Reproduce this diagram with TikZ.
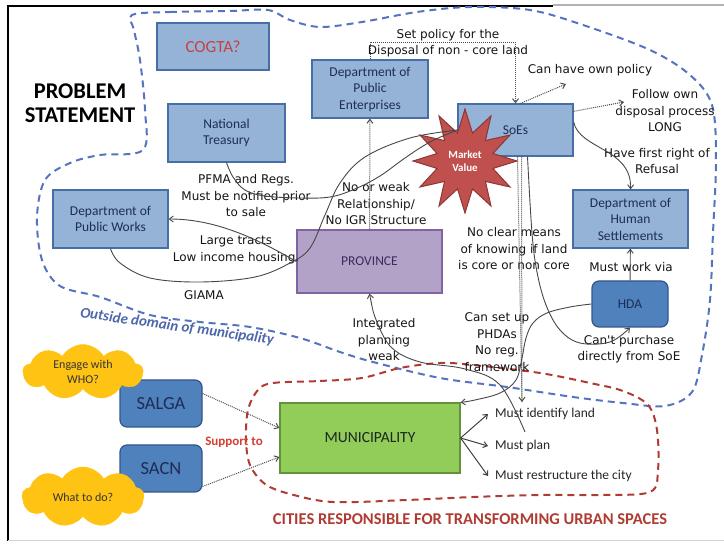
\documentclass[tikz,border=0pt]{standalone}
\usepackage{fontspec}
\setmainfont{Carlito}
\newfontfamily\handfont{DejaVu Sans}
\usetikzlibrary{shapes.geometric,shapes.symbols,arrows.meta,calc,positioning}

\definecolor{boxfill}{RGB}{149,179,215}
\definecolor{boxdraw}{RGB}{72,110,168}
\definecolor{boxtext}{RGB}{30,45,85}
\definecolor{darkfill}{RGB}{79,129,189}
\definecolor{darkdraw}{RGB}{50,85,140}
\definecolor{provfill}{RGB}{179,162,199}
\definecolor{provdraw}{RGB}{128,100,162}
\definecolor{provtext}{RGB}{55,45,95}
\definecolor{munifill}{RGB}{146,205,90}
\definecolor{munidraw}{RGB}{100,145,60}
\definecolor{munitext}{RGB}{25,40,30}
\definecolor{starfill}{RGB}{192,80,77}
\definecolor{stardraw}{RGB}{140,55,55}
\definecolor{cloudfill}{RGB}{255,195,20}
\definecolor{outblue}{RGB}{85,115,190}
\definecolor{cityred}{RGB}{175,60,50}
\definecolor{supred}{RGB}{215,60,50}
\definecolor{cogtared}{RGB}{200,65,65}

\tikzset{
  land schemes/.style = {
    x = 1pt, y = -1pt,
    >= {Straight Barb[length=4pt,width=6pt]},
    % Blocks
    bn/.style  = {draw=boxdraw, fill=boxfill, line width=1.2pt,
                  text=boxtext, align=center, inner sep=2pt,
                  font=\fontsize{13.5}{16.5}\selectfont},
    dbn/.style = {bn, fill=darkfill, draw=darkdraw, rounded corners=7pt},
    pn/.style  = {bn, fill=provfill, draw=provdraw, text=provtext},
    gn/.style  = {bn, fill=munifill, draw=munidraw, text=munitext,
                  font=\fontsize{15.5}{18}\selectfont},
    cn/.style  = {cloud, cloud puffs=9, cloud puff arc=120, aspect=2.2,
                  fill=cloudfill, draw=cloudfill, inner sep=0pt, align=center,
                  text=black!80, font=\fontsize{12}{14.5}\selectfont},
    % Texts
    hn/.style  = {font=\handfont\fontsize{12}{16.5}\selectfont,
                  text=black!92, align=center, inner sep=0pt},
    mn/.style  = {font=\fontsize{13.5}{16}\selectfont, text=black!85,
                  anchor=west, inner sep=0pt},
    % Lines
    dot line/.style   = {draw=black!70, line width=1pt, densely dotted, ->},
    curve line/.style = {draw=black!72, line width=0.9pt},
    fan line/.style   = {draw=black!75, line width=1pt, ->},
    blue dash/.style  = {draw=outblue, line width=2pt, dash pattern=on 7pt off 5pt},
    red dash/.style   = {draw=cityred, line width=2pt, dash pattern=on 7pt off 5pt},
  }
}

\begin{document}
\begin{tikzpicture}[land schemes]
  \useasboundingbox (0,0) rectangle (724,545);

  % frame
  \draw[line width=2.5pt] (8,541) -- (8,6) -- (553,6);
  \draw[gray!60, line width=1.2pt] (553,5) -- (724,5);
  \draw[gray!35, line width=1pt] (8,541) -- (724,541);

  % domains
  \draw[blue dash] plot[smooth cycle, tension=0.55] coordinates {
    (132,15) (170,12) (230,11) (268,10) (290,20) (320,27) (362,22)
    (417,12) (470,7) (530,10) (583,25) (650,50) (690,75) (712,105)
    (716,160) (713,233) (710,300) (702,355) (692,392) (665,406)
    (623,403) (573,397) (507,387) (440,378) (373,362) (340,352)
    (300,338) (250,327) (200,322) (150,315) (100,297) (60,286)
    (42,260) (37,217) (45,180) (70,163) (100,155) (143,150)
    (145,110) (140,60) (134,30)};
  \draw[red dash] plot[smooth cycle, tension=0.55] coordinates {
    (273,383) (320,381) (362,378) (400,368) (440,363) (473,365)
    (540,373) (590,383) (623,391) (648,405) (657,430) (658,470)
    (650,492) (600,495) (540,495) (473,497) (407,500) (333,502)
    (290,494) (265,484) (250,465) (246,440) (248,410) (258,390)};

  % blocks
  \node[bn, text=cogtared, minimum width=112, minimum height=47,
        font=\fontsize{17}{20}\selectfont] (cogta) at (213,46.5) {COGTA?};
  \node[bn, minimum width=116, minimum height=58] (dpe) at (370,89)
        {Department of\\Public\\Enterprises};
  \node[bn, minimum width=117, minimum height=58] (nt) at (226.5,133)
        {National\\Treasury};
  \node[bn, minimum width=115, minimum height=52] (soes) at (515.5,130) {SoEs};
  \node[bn, minimum width=115, minimum height=58] (dpw) at (110.5,219)
        {Department of\\Public Works};
  \node[bn, minimum width=115, minimum height=58] (dhs) at (630.5,219)
        {Department of\\Human\\Settlements};
  \node[pn, minimum width=145, minimum height=63] (prov) at (369.5,261.5) {PROVINCE};
  \node[dbn, minimum width=76, minimum height=46] (hda) at (630,304) {HDA};
  \node[dbn, minimum width=82, minimum height=47,
        font=\fontsize{18.5}{20}\selectfont] (salga) at (161,403.5) {SALGA};
  \node[dbn, minimum width=82, minimum height=47,
        font=\fontsize{18.5}{20}\selectfont] (sacn) at (161,468.5) {SACN};
  \node[gn, minimum width=180, minimum height=70] (muni) at (370,438) {MUNICIPALITY};
  \node[cn, minimum width=120, minimum height=55] (who) at (83,372) {Engage with\\WHO?};
  \node[cn, minimum width=122, minimum height=60] (what) at (83,497) {What to do?};

  \node[star, star points=12, star point ratio=1.8, minimum size=104,
        inner sep=0pt, fill=starfill, draw=stardraw, line width=1pt,
        text=white, align=center, font=\bfseries\fontsize{11}{13}\selectfont]
        (mv) at (465,161) {Market\\Value};

  % texts
  \node[font=\bfseries\fontsize{22.5}{24}\selectfont, align=center]
        (title) at (80,103) {PROBLEM\\STATEMENT};
  \node[rotate=-8, text=outblue!90!black,
        font=\bfseries\itshape\fontsize{15}{18}\selectfont]
        (outside) at (177,327) {Outside domain of municipality};
  \node[text=supred, font=\bfseries\fontsize{13}{15}\selectfont]
        (support) at (234,442) {Support to};
  \node[text=cityred, font=\bfseries\fontsize{16.5}{20}\selectfont]
        (cities) at (470,519) {CITIES RESPONSIBLE FOR TRANSFORMING URBAN SPACES};
  \node[mn] (land)  at (495,414) {Must identify land};
  \node[mn] (plan)  at (495,446) {Must plan};
  \node[mn] (restr) at (495,476) {Must restructure the city};

  \node[hn] (setpol)     at (448,43)  {Set policy for the\\Disposal of non - core land};
  \node[hn] (ownpol)     at (590,70)  {Can have own policy};
  \node[hn] (ownproc)    at (665,111) {Follow own\\disposal process\\LONG};
  \node[hn] (firstright) at (657,161) {Have first right of\\Refusal};
  \node[hn] (pfma)       at (246,196) {PFMA and Regs.\\Must be notified prior\\to sale};
  \node[hn] (noigr)      at (376,204) {No or weak\\Relationship/\\No IGR Structure};
  \node[hn] (tracts)     at (236,250) {Large tracts\\Low income housing.};
  \node[hn] (giama)      at (204,295) {GIAMA};
  \node[hn] (noclear)    at (514,249) {No clear means\\of knowing if land\\is core or non core};
  \node[hn] (workvia)    at (631,267) {Must work via};
  \node[hn] (integ)      at (384,340) {Integrated\\planning\\weak};
  \node[hn] (phda)       at (497,342) {Can set up\\PHDAs\\No reg.\\framework};
  \node[hn] (cantbuy)    at (629,349) {Can't purchase\\directly from SoE};

  % free ends
  \coordinate (ownpol tip)  at (566,84);
  \coordinate (ownproc tip) at (624,102);
  \coordinate (land tip)    at (522,402);
  \coordinate (plan end)    at (525,432);
  \coordinate (soes b1) at ([xshift=2pt]soes.south);
  \coordinate (soes b2) at ([xshift=6pt]soes.south);
  \coordinate (soes b3) at ([xshift=12pt]soes.south);

  % connectors
  \draw[dot line] (dpe.north) -- ++(0,-17) -| (soes.north);
  \draw[dot line] ([xshift=5pt]soes.north) -- (ownpol tip);
  \draw[dot line] ($(soes.north east)!0.15!(soes.south east)$) -- (ownproc tip);
  \draw[curve line,->] ($(soes.north east)!0.35!(soes.south east)$)
        .. controls (580,150) and (632,148) .. (dhs.north);
  \draw[dot line] (prov) -- (dpe);
  \draw[curve line] plot[smooth, tension=0.6] coordinates {(nt.south) (233,177)
        (245,190) (265,196) (300,198) (330,197) (355,189) (380,176) (405,158)
        (430,142) (soes.west)};
  \draw[curve line] plot[smooth, tension=0.6] coordinates {(dpw.south) (120,263)
        (150,278) (200,282) (255,277) (290,263) (310,248) (325,215) (340,183)
        (365,157) (410,138) (soes.west)};
  \draw[curve line,<-] (dpw.east) .. controls +(50,0) and +(-35,-20) .. (prov.west);
  \draw[dot line] (soes b1) -- (land tip);
  \draw[dot line,-] (soes b2) -- (land tip);
  \draw[curve line,<-] plot[smooth, tension=0.6] coordinates {(prov.south)
        (377,322) (392,348) (420,362) (465,369) (500,385) (plan end)};
  \draw[curve line,->] plot[smooth, tension=0.6] coordinates {(soes b3) (532,233)
        (537,272) (546,305) (560,330) (580,343) (610,342) (hda.south)};
  \draw[curve line,->] plot[smooth, tension=0.6] coordinates {(hda.west) (570,307)
        (547,313) (533,323) (526,338) (522,358) (516,380) (500,393) (475,400)
        (muni.north east)};
  \draw[curve line,->] (hda) -- (dhs);
  \draw[dot line] ([yshift=10pt]salga.east) -- ([yshift=10pt]muni.west);
  \draw[dot line] ([yshift=-18pt]sacn.east) -- ([yshift=-19pt]muni.west);
  \foreach \t in {land,plan,restr}
    \draw[fan line] (muni.east) -- ([xshift=-7pt]\t.west);

\end{tikzpicture}
\end{document}
